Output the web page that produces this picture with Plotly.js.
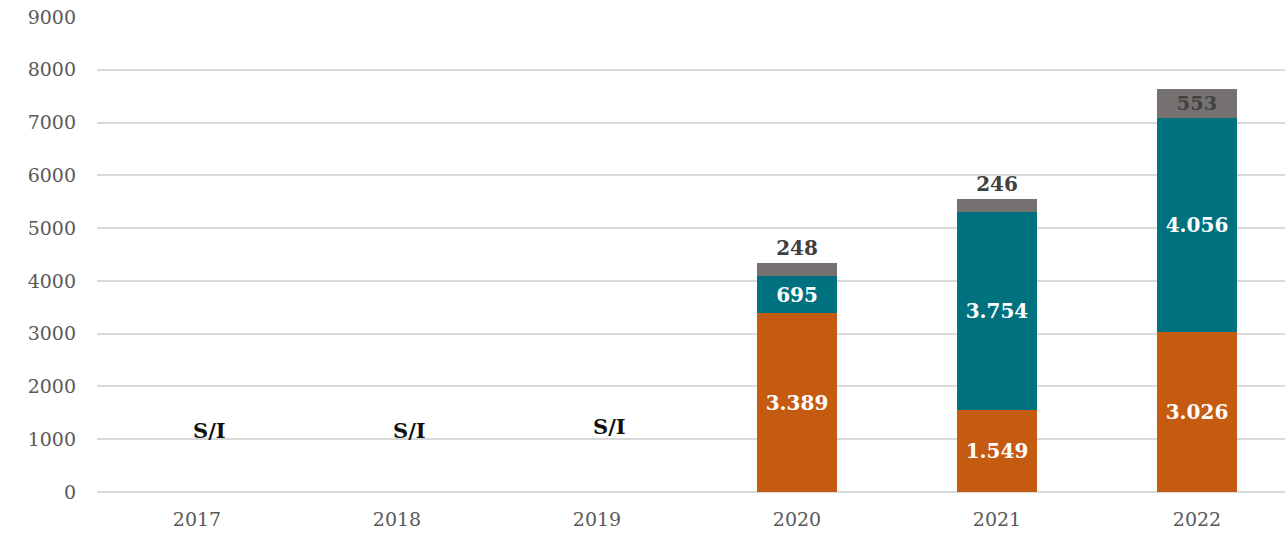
<!DOCTYPE html>
<html>
<head>
<meta charset="utf-8">
<script src="https://cdn.plot.ly/plotly-3.0.1.min.js"></script>
<style>
  html, body { margin: 0; padding: 0; background: #fff; }
  #chart { width: 1285px; height: 535px; }
</style>
</head>
<body>
<div id="chart"></div>
<script>
// years and the three stacked series (S/I = no data for 2017-2019)
const years = ['2017', '2018', '2019', '2020', '2021', '2022'];
const orangeVals = [null, null, null, 3389, 1549, 3026];
const tealVals = [null, null, null, 695, 3754, 4056];
const grayVals = [null, null, null, 248, 246, 553];
const noInfoLabel = 'S/I';
const noInfoYears = ['2017', '2018', '2019'];
const noInfoHeights = [1170, 1160, 1240];

const serif = '"DejaVu Serif", Georgia, serif';

const traces = [
    {
        x: years, y: orangeVals, type: 'bar', name: 'orange',
        marker: { color: '#C55A11' },
        texttemplate: '%{y:,}', textposition: 'inside', insidetextanchor: 'middle',
        textfont: { family: serif, size: 20, color: '#ffffff', weight: 'bold' },
        hoverinfo: 'x+y'
    },
    {
        x: years, y: tealVals, type: 'bar', name: 'teal',
        marker: { color: '#00727F' },
        texttemplate: '%{y:,}', textposition: 'inside', insidetextanchor: 'middle',
        textfont: { family: serif, size: 20, color: '#ffffff', weight: 'bold' },
        hoverinfo: 'x+y'
    },
    {
        x: years, y: grayVals, type: 'bar', name: 'gray',
        marker: { color: '#767171' },
        texttemplate: '%{y:,}',
        textposition: ['outside', 'outside', 'outside', 'outside', 'outside', 'inside'],
        insidetextanchor: 'end',
        textfont: { family: serif, size: 20, color: '#404040', weight: 'bold' },
        cliponaxis: false,
        hoverinfo: 'x+y'
    }
];

// category axis: annotations placed by category index
const annotations = noInfoYears.map((yr, i) => ({
    x: years.indexOf(yr), y: noInfoHeights[i], xref: 'x', yref: 'y',
    xshift: 12,
    text: noInfoLabel, showarrow: false,
    font: { family: serif, size: 21, color: '#111111', weight: 'bold' }
}));

const layout = {
    width: 1285, height: 535,
    margin: { l: 97, r: 0, t: 17, b: 43 },
    barmode: 'stack',
    bargap: 0.6,
    separators: ',.',
    showlegend: false,
    paper_bgcolor: '#ffffff',
    plot_bgcolor: '#ffffff',
    font: { family: serif, color: '#595959' },
    xaxis: {
        type: 'category',
        range: [-0.5, 5.44],
        showgrid: false,
        showline: false,
        ticks: '',
        ticklabelstandoff: 14,
        tickfont: { family: serif, size: 19, color: '#595959' }
    },
    yaxis: {
        range: [0, 9000],
        dtick: 1000,
        showgrid: true,
        gridcolor: '#d9d9d9',
        gridwidth: 2,
        zeroline: true,
        zerolinecolor: '#d9d9d9',
        zerolinewidth: 2,
        showline: false,
        ticks: '',
        ticklabelstandoff: 20,
        tickfont: { family: serif, size: 19, color: '#595959' }
    },
    annotations: annotations
};

Plotly.newPlot('chart', traces, layout, { displayModeBar: false, staticPlot: true });
</script>
</body>
</html>
